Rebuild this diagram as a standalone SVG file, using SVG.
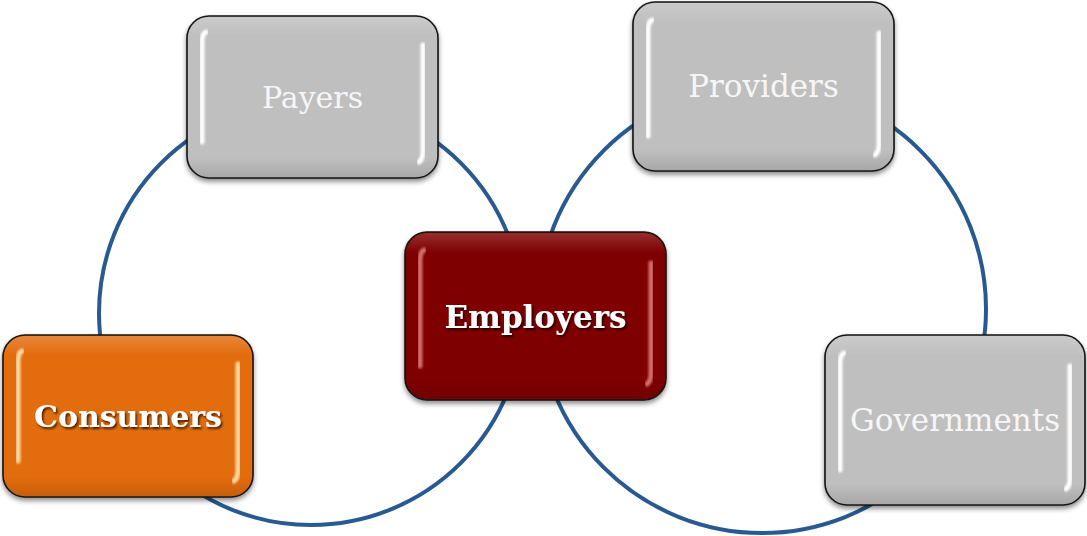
<svg xmlns="http://www.w3.org/2000/svg" width="1087" height="536" viewBox="0 0 1087 536">
  <defs>
    <filter id="boxShadow" x="-10%" y="-10%" width="120%" height="130%">
      <feDropShadow dx="0" dy="3" stdDeviation="2.5" flood-color="#000" flood-opacity="0.45"/>
    </filter>
    <filter id="glow" x="-50%" y="-10%" width="200%" height="120%">
      <feGaussianBlur stdDeviation="0.8"/>
    </filter>
    <filter id="textShadow" x="-10%" y="-20%" width="120%" height="150%">
      <feDropShadow dx="1.5" dy="2" stdDeviation="1.2" flood-color="#000" flood-opacity="0.75"/>
    </filter>
    <linearGradient id="bevel" x1="0" y1="0" x2="0" y2="1">
      <stop offset="0" stop-color="#fff" stop-opacity="0.18"/>
      <stop offset="0.12" stop-color="#fff" stop-opacity="0"/>
      <stop offset="0.88" stop-color="#000" stop-opacity="0"/>
      <stop offset="1" stop-color="#000" stop-opacity="0.12"/>
    </linearGradient>
  </defs>
  <style>
    .ring { fill: none; stroke: #285a91; stroke-width: 4; }
    .frame { stroke: #151515; stroke-width: 1.6; }
    .grey { fill: #bfbfbf; }
    .orange { fill: #e36c0a; }
    .red { fill: #7f0000; }
    .bevel { fill: url(#bevel); }
    .bar { fill: none; stroke-width: 5; stroke-linecap: round; filter: url(#glow); }
    .bar-grey { stroke: #ffffff; }
    .bar-orange { stroke: #ffd9a6; }
    .bar-red { stroke: #e88a8a; stroke-opacity: 0.8; }
    .label { font-family: "DejaVu Serif", "Liberation Serif", serif; text-anchor: middle; fill: #f6f6f6; }
    .plain { font-size: 30px; }
    .strong { font-size: 31px; font-weight: bold; fill: #ffffff; filter: url(#textShadow); }
  </style>

  <!-- connector rings behind the nodes -->
  <g id="connectors">
    <circle class="ring" cx="311" cy="313" r="212"/>
    <circle class="ring" cx="762" cy="309" r="224"/>
  </g>

  <g id="node-payers">
    <rect class="grey frame" x="187" y="16" width="251" height="162" rx="22" filter="url(#boxShadow)"/>
    <rect class="bevel" x="188" y="17" width="249" height="160" rx="21"/>
    <path class="bar bar-grey" d="M202 142 L202 42 Q202 34 206 32"/>
    <path class="bar bar-grey" d="M423 45 L423 151 Q423 159 419 162"/>
    <text class="label plain" x="312.5" y="108">Payers</text>
  </g>

  <g id="node-providers">
    <rect class="grey frame" x="633" y="2" width="261" height="169" rx="22" filter="url(#boxShadow)"/>
    <rect class="bevel" x="634" y="3" width="259" height="167" rx="21"/>
    <path class="bar bar-grey" d="M648 136 L648 30 Q648 22 652 20"/>
    <path class="bar bar-grey" d="M879 33 L879 144 Q879 152 875 155"/>
    <text class="label plain" x="763.5" y="97" style="font-size:31px">Providers</text>
  </g>

  <g id="node-employers">
    <rect class="red frame" x="405" y="232" width="261" height="168" rx="22" filter="url(#boxShadow)"/>
    <rect class="bevel" x="406" y="233" width="259" height="166" rx="21"/>
    <path class="bar bar-red" d="M420 366 L420 260 Q420 252 424 250"/>
    <path class="bar bar-red" d="M651 263 L651 373 Q651 381 647 384"/>
    <text class="label strong" x="535.5" y="328">Employers</text>
  </g>

  <g id="node-consumers">
    <rect class="orange frame" x="3" y="335" width="250" height="162" rx="22" filter="url(#boxShadow)"/>
    <rect class="bevel" x="4" y="336" width="248" height="160" rx="21"/>
    <path class="bar bar-orange" d="M18 461 L18 361 Q18 353 22 351"/>
    <path class="bar bar-orange" d="M238 364 L238 470 Q238 478 234 481"/>
    <text class="label strong" x="128" y="427" style="font-size:30px">Consumers</text>
  </g>

  <g id="node-governments">
    <rect class="grey frame" x="825" y="335" width="260" height="170" rx="22" filter="url(#boxShadow)"/>
    <rect class="bevel" x="826" y="336" width="258" height="168" rx="21"/>
    <path class="bar bar-grey" d="M840 470 L840 363 Q840 355 844 353"/>
    <path class="bar bar-grey" d="M1070 366 L1070 478 Q1070 486 1066 489"/>
    <text class="label plain" x="955" y="431" style="font-size:31px">Governments</text>
  </g>
</svg>
